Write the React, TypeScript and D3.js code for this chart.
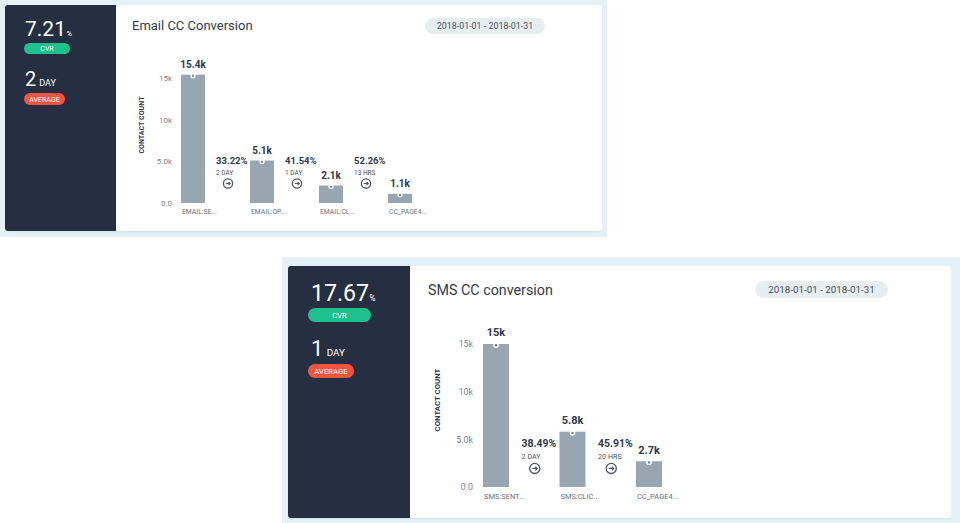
import React from "react";
import * as d3 from "d3";

// ---- data ----
const emailSteps = ["EMAIL:SE...", "EMAIL:OP...", "EMAIL:CL...", "CC_PAGE4..."];
const emailCounts = [15400, 5100, 2100, 1100];
const emailCountLabels = ["15.4k", "5.1k", "2.1k", "1.1k"];
const emailRates = ["33.22%", "41.54%", "52.26%"];
const emailTimes = ["2 DAY", "1 DAY", "13 HRS"];

const smsSteps = ["SMS:SENT...", "SMS:CLIC...", "CC_PAGE4..."];
const smsCounts = [15000, 5800, 2700];
const smsCountLabels = ["15k", "5.8k", "2.7k"];
const smsRates = ["38.49%", "45.91%"];
const smsTimes = ["2 DAY", "20 HRS"];

const tickValues = [0, 5000, 10000, 15000];
const tickLabels = ["0.0", "5.0k", "10k", "15k"];

const FONT = "Roboto, 'Noto Sans', sans-serif";
const BAR = "#97a6b1";
const DARK = "#262e42";
const TEXT = "#2f3a4b";

type Layout = {
  outer: [number, number, number, number];
  card: [number, number, number, number];
  side: number;
  s: number;
  title: [number, number];
  pill: [number, number, number, number];
  yRange: [number, number];
  barLeft: number;
  step: number;
  barW: number;
  tickX: number;
  yLabel: [number, number];
  rateY: number;
  cvr: [number, number];
  cvrPill: [number, number, number, number];
  day: [number, number];
  avgPill: [number, number, number, number];
};

function Panel(props: {
  L: Layout;
  title: string;
  cvr: string;
  days: string;
  steps: string[];
  counts: number[];
  countLabels: string[];
  rates: string[];
  times: string[];
}) {
  const { L, steps, counts, countLabels, rates, times } = props;
  const s = L.s;
  const n = steps.length;
  const y = d3.scaleLinear().domain([0, 15000]).range(L.yRange);
  const pIn = (L.step - L.barW) / L.step;
  const x = d3
    .scaleBand<string>()
    .domain(steps)
    .range([L.barLeft, L.barLeft + L.step * n - (L.step - L.barW)])
    .paddingInner(pIn)
    .paddingOuter(0);
  const bw = x.bandwidth();
  const [ox, oy, ow, oh] = L.outer;
  const [cx, cy, cw, ch] = L.card;
  return (
    <g>
      <rect x={ox} y={oy} width={ow} height={oh} fill="#e4f1f6" />
      <rect x={cx} y={cy + 1.5} width={cw} height={ch} rx={3} fill="#c9dfe8" opacity={0.7} />
      <rect x={cx} y={cy} width={cw} height={ch} rx={3} fill="#ffffff" />
      <path
        d={`M${cx + L.side},${cy} H${cx + 3} Q${cx},${cy} ${cx},${cy + 3} V${cy + ch - 3} Q${cx},${cy + ch} ${cx + 3},${cy + ch} H${cx + L.side} Z`}
        fill={DARK}
      />
      {/* sidebar */}
      <text x={L.cvr[0]} y={L.cvr[1]} fill="#fff" fontFamily={FONT} fontSize={21 * s}>
        {props.cvr}
        <tspan fontSize={7.5 * s} dx={0.5 * s}>%</tspan>
      </text>
      <rect x={L.cvrPill[0]} y={L.cvrPill[1]} width={L.cvrPill[2]} height={L.cvrPill[3]} rx={L.cvrPill[3] / 2} fill="#1ec08b" />
      <text x={L.cvrPill[0] + L.cvrPill[2] / 2} y={L.cvrPill[1] + L.cvrPill[3] / 2 + 2.5 * s} textAnchor="middle" fill="#fff" fontFamily={FONT} fontSize={7 * s}>CVR</text>
      <text x={L.day[0]} y={L.day[1]} fill="#fff" fontFamily={FONT} fontSize={20 * s}>
        {props.days}
        <tspan fontSize={9 * s} dx={3 * s}>DAY</tspan>
      </text>
      <rect x={L.avgPill[0]} y={L.avgPill[1]} width={L.avgPill[2]} height={L.avgPill[3]} rx={L.avgPill[3] / 2} fill="#f2543d" />
      <text x={L.avgPill[0] + L.avgPill[2] / 2} y={L.avgPill[1] + L.avgPill[3] / 2 + 2.5 * s} textAnchor="middle" fill="#fff" fontFamily={FONT} fontSize={7 * s}>AVERAGE</text>

      {/* header */}
      <text x={L.title[0]} y={L.title[1]} fill="#333b48" fontFamily={FONT} fontSize={13 * s}>{props.title}</text>
      <rect x={L.pill[0]} y={L.pill[1]} width={L.pill[2]} height={L.pill[3]} rx={L.pill[3] / 2} fill="#e7eef1" />
      <text x={L.pill[0] + L.pill[2] / 2} y={L.pill[1] + L.pill[3] / 2 + 3.2 * s} textAnchor="middle" fill="#4a5260" fontFamily={FONT} fontSize={8.9 * s}>2018-01-01 - 2018-01-31</text>

      {/* axis */}
      <text
        transform={`translate(${L.yLabel[0]},${L.yLabel[1]}) rotate(-90)`}
        textAnchor="middle"
        fill={TEXT}
        fontFamily={FONT}
        fontWeight="bold"
        fontSize={7.1 * s}
      >CONTACT COUNT</text>
      {tickValues.map((t, i) => (
        <text key={t} x={L.tickX} y={y(t) + 3 * s} textAnchor="end" fill="#7a8290" fontFamily={FONT} fontSize={8 * s}>{tickLabels[i]}</text>
      ))}

      {/* bars */}
      {steps.map((st, i) => {
        const bx = x(st)!;
        const top = y(counts[i]);
        return (
          <g key={st}>
            <rect x={bx} y={top} width={bw} height={y(0) - top} fill={BAR} />
            <circle cx={bx + bw / 2} cy={top + 1} r={2.6 * s} fill="#fff" />
            <circle cx={bx + bw / 2} cy={top + 1.3} r={1.1 * s} fill="#6d7d89" />
            <text x={bx + bw / 2} y={top - 7 * s} textAnchor="middle" fill={TEXT} fontFamily={FONT} fontWeight="bold" fontSize={10 * s}>{countLabels[i]}</text>
            <text x={bx + 1} y={y(0) + 11 * s} fill="#6b7280" fontFamily={FONT} fontSize={6.8 * s}>{st}</text>
          </g>
        );
      })}

      {/* conversions */}
      {rates.map((r, i) => {
        const gc = (x(steps[i])! + bw + x(steps[i + 1])!) / 2;
        const tx = gc - 11.5 * s;
        const iy = L.rateY + 19.5 * s;
        return (
          <g key={r}>
            <text x={tx} y={L.rateY} fill={TEXT} fontFamily={FONT} fontWeight="bold" fontSize={9.5 * s}>{r}</text>
            <text x={tx} y={L.rateY + 10.5 * s} fill="#4a5260" fontFamily={FONT} fontSize={6.5 * s}>{times[i]}</text>
            <circle cx={gc + 0.5} cy={iy} r={4.6 * s} fill="none" stroke="#4d5766" strokeWidth={1.3} />
            <path
              d={`M${gc + 0.5 - 2.2 * s},${iy} H${gc + 0.5 + 2.2 * s} M${gc + 0.5 + 0.6 * s},${iy - 1.6 * s} L${gc + 0.5 + 2.2 * s},${iy} L${gc + 0.5 + 0.6 * s},${iy + 1.6 * s}`}
              fill="none"
              stroke="#4d5766"
              strokeWidth={1.2}
            />
          </g>
        );
      })}
    </g>
  );
}

const topLayout: Layout = {
  outer: [0, 0, 607, 237],
  card: [5, 5, 597, 226],
  side: 111,
  s: 1,
  title: [132, 30],
  pill: [425, 18, 120, 16],
  yRange: [203, 78],
  barLeft: 181,
  step: 69,
  barW: 24,
  tickX: 172,
  yLabel: [144, 125],
  rateY: 164,
  cvr: [25, 36],
  cvrPill: [24, 43, 46, 11],
  day: [25, 86],
  avgPill: [24, 93, 41, 12],
};

const bottomLayout: Layout = {
  outer: [282, 257, 678, 266],
  card: [288, 266, 663, 252],
  side: 122,
  s: 1.1,
  title: [428, 295],
  pill: [755, 281, 133, 17],
  yRange: [487, 344],
  barLeft: 483,
  step: 76.5,
  barW: 26,
  tickX: 473,
  yLabel: [440, 400],
  rateY: 447,
  cvr: [311, 301],
  cvrPill: [308, 308, 63, 14],
  day: [311, 356],
  avgPill: [308, 364, 46, 14],
};

export default function App() {
  return (
    <div style={{ position: "fixed", left: 0, top: 0 }}>
      <svg width={960} height={523} style={{ display: "block" }}>
        <rect width={960} height={523} fill="#fff" />
        <Panel
          L={topLayout}
          title="Email CC Conversion"
          cvr="7.21"
          days="2"
          steps={emailSteps}
          counts={emailCounts}
          countLabels={emailCountLabels}
          rates={emailRates}
          times={emailTimes}
        />
        <Panel
          L={bottomLayout}
          title="SMS CC conversion"
          cvr="17.67"
          days="1"
          steps={smsSteps}
          counts={smsCounts}
          countLabels={smsCountLabels}
          rates={smsRates}
          times={smsTimes}
        />
      </svg>
    </div>
  );
}
